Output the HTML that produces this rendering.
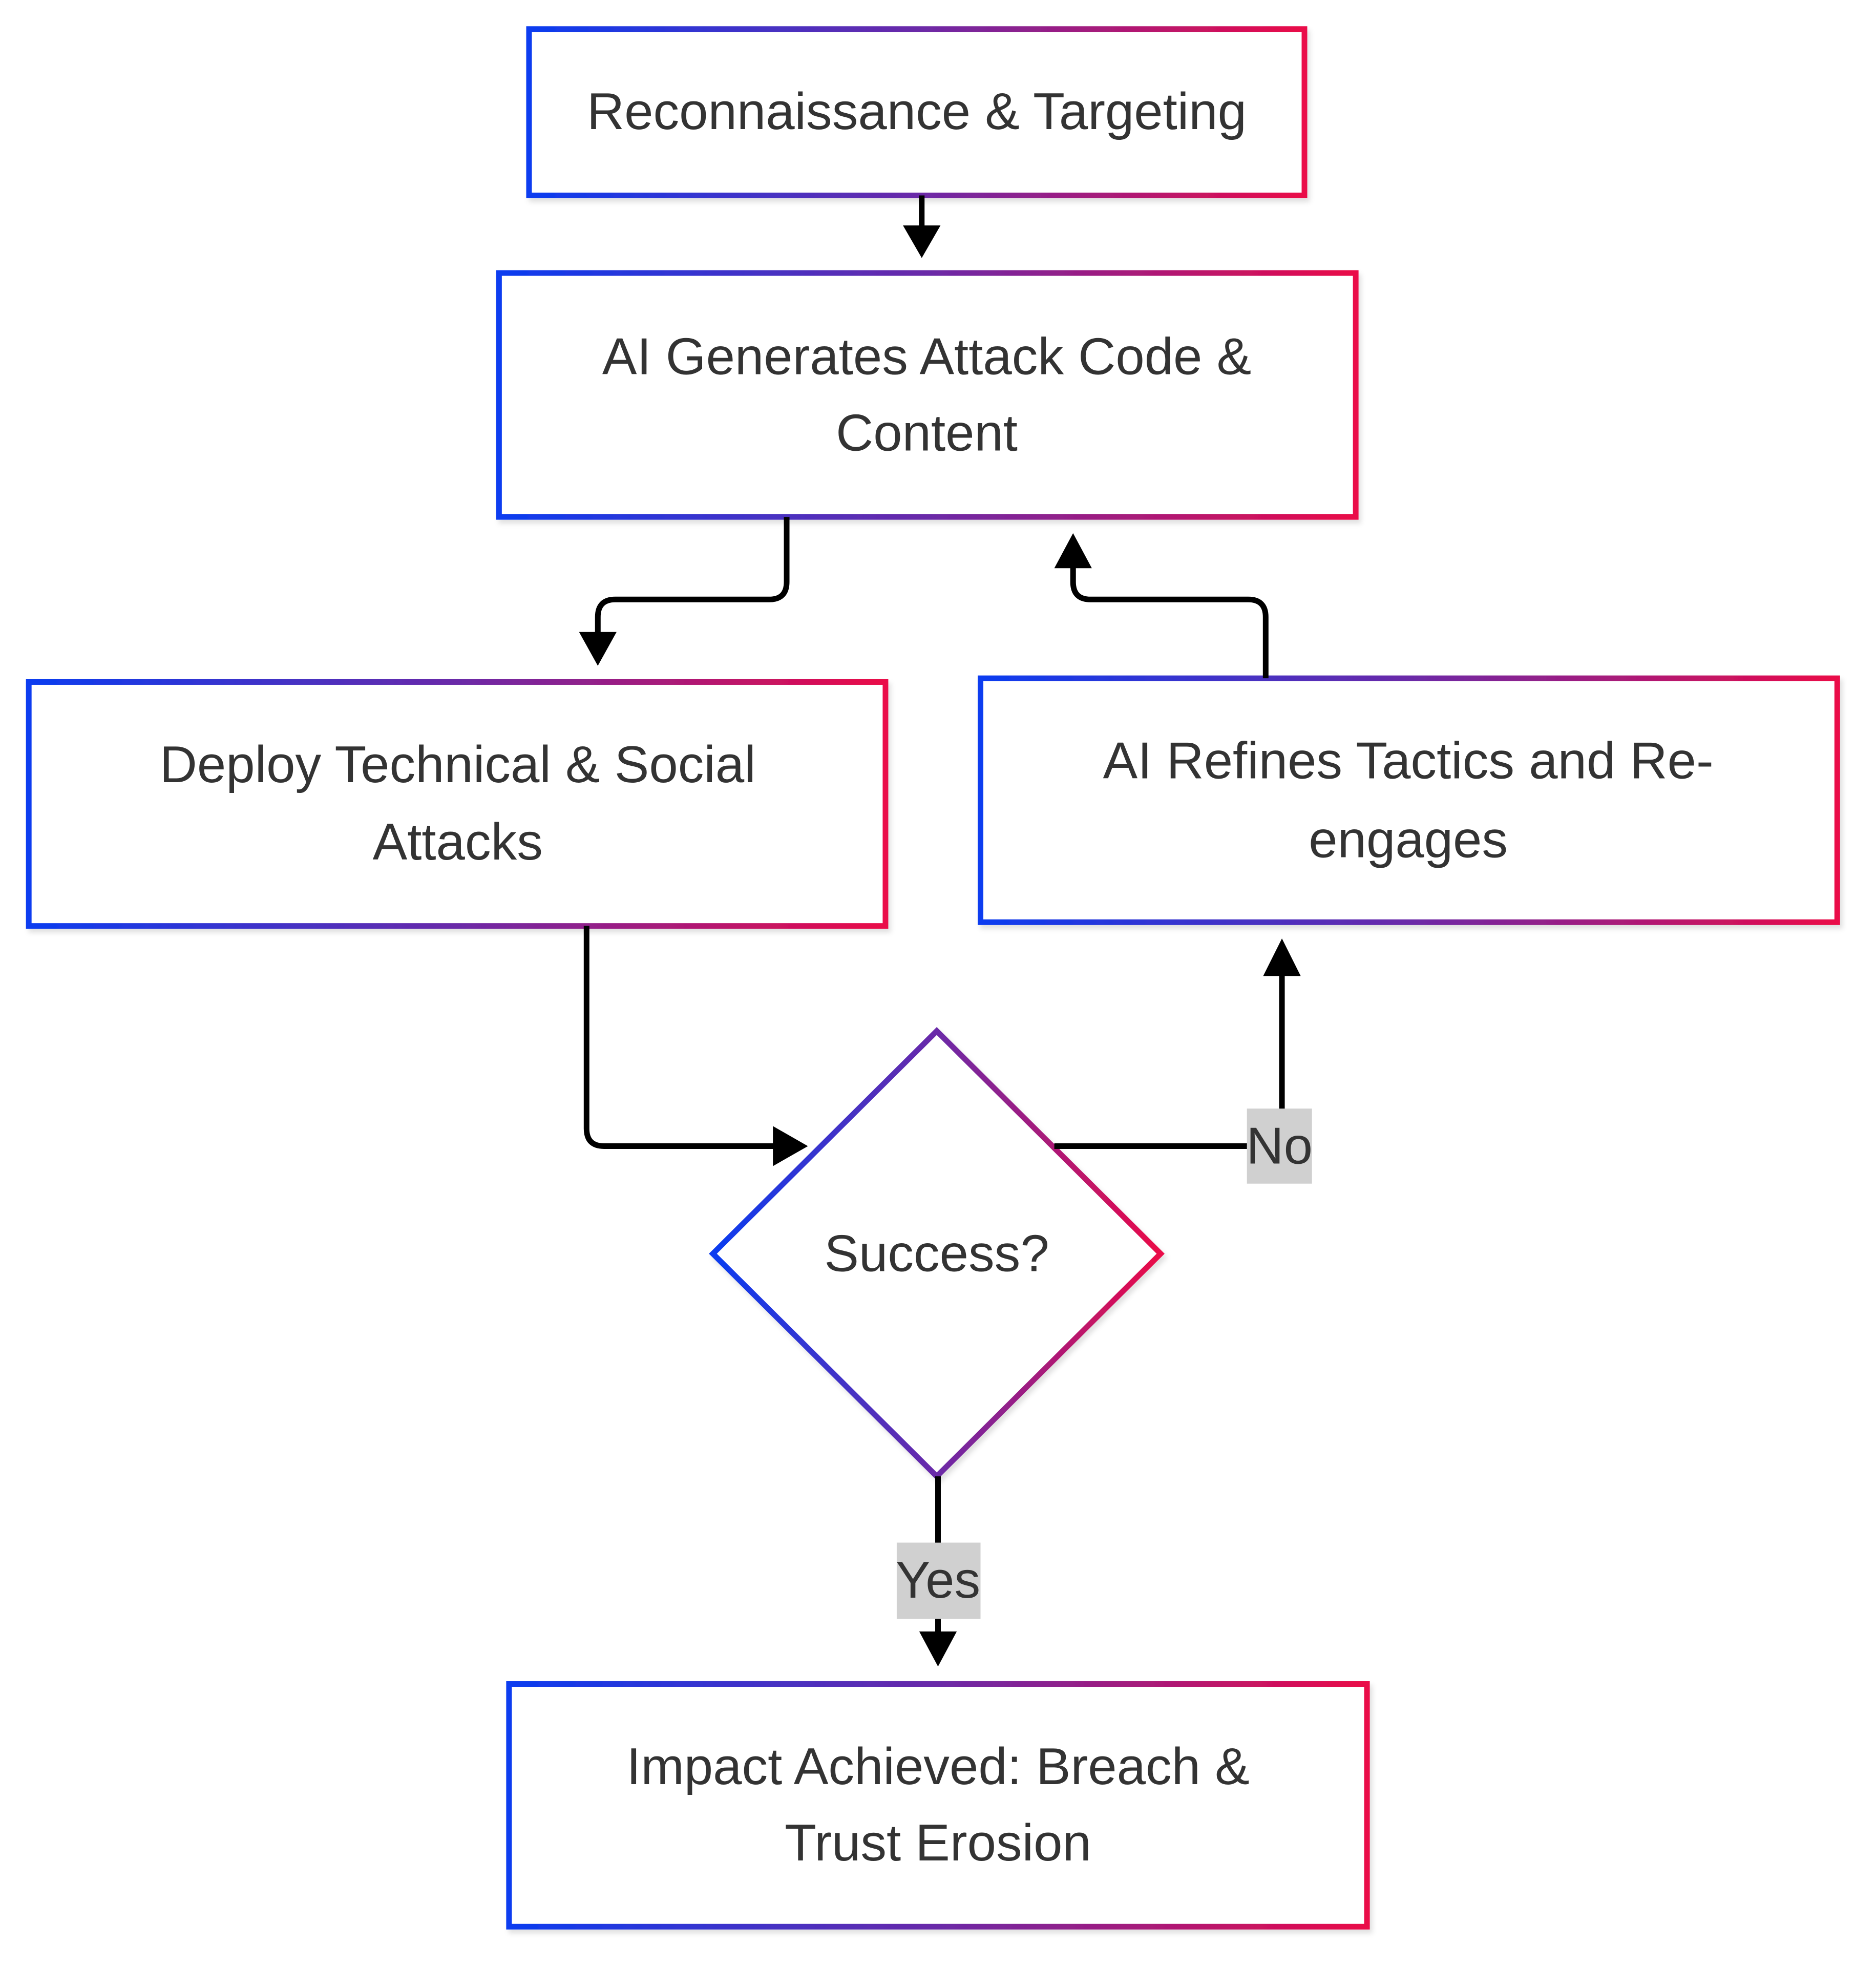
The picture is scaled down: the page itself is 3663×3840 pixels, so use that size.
<!DOCTYPE html>
<html><head><meta charset="utf-8"><style>
html,body{margin:0;padding:0;background:#fff;}
svg{display:block;}
text{font-family:"Liberation Sans",Arial,sans-serif;fill:#333;}
</style></head><body>
<svg width="3663" height="3840" viewBox="0 0 1500 1572" xmlns="http://www.w3.org/2000/svg">
<defs>
<linearGradient id="g" x1="0" y1="0" x2="1" y2="0">
<stop offset="0" stop-color="#0b3cf0"/><stop offset="0.5" stop-color="#6a2aa8"/><stop offset="1" stop-color="#ea0a48"/>
</linearGradient>
<filter id="sh" x="-5%" y="-5%" width="110%" height="115%"><feDropShadow dx="2" dy="3" stdDeviation="2" flood-color="#000" flood-opacity="0.12"/></filter>
</defs>
<g fill="#fff" stroke="url(#g)" stroke-width="4.5" filter="url(#sh)">
<rect x="423" y="23" width="620" height="133"/>
<rect x="399" y="218" width="685" height="195"/>
<rect x="23" y="545" width="685" height="195"/>
<rect x="784" y="542" width="685" height="195"/>
<rect x="407" y="1346" width="686" height="194"/>
<polygon points="749,824 928,1002 749,1180 570,1002"/>
</g>
<g fill="none" stroke="#000" stroke-width="4.5">
<path d="M737 156 V182"/>
<path d="M629 413 V465 Q629 479 615 479 H492 Q478 479 478 493 V508"/>
<path d="M469 740 V902 Q469 916 483 916 H620"/>
<path d="M843 916 H1025 V778"/>
<path d="M1012 542 V493 Q1012 479 998 479 H872 Q858 479 858 465 V452"/>
<path d="M750 1180 V1307"/>
</g>
<g fill="#000">
<polygon points="722,180 752,180 737,206"/>
<polygon points="463,505 493,505 478,532"/>
<polygon points="618,900 618,932 646,916"/>
<polygon points="1010,780 1040,780 1025,750"/>
<polygon points="843,454 873,454 858,426"/>
<polygon points="735,1304 765,1304 750,1332"/>
</g>
<rect x="997" y="886" width="52" height="60" fill="#d0d0d0"/>
<rect x="717" y="1233" width="67" height="61" fill="#d0d0d0"/>
<g font-size="41.5" text-anchor="middle">
<text x="733" y="103">Reconnaissance &amp; Targeting</text>
<text x="741" y="299">AI Generates Attack Code &amp;</text>
<text x="741" y="360">Content</text>
<text x="366" y="625">Deploy Technical &amp; Social</text>
<text x="366" y="687">Attacks</text>
<text x="1126" y="622">AI Refines Tactics and Re-</text>
<text x="1126" y="685">engages</text>
<text x="749" y="1016">Success?</text>
<text x="750" y="1426">Impact Achieved: Breach &amp;</text>
<text x="750" y="1487">Trust Erosion</text>
<text x="1023" y="930">No</text>
<text x="750" y="1277">Yes</text>
</g>
</svg>
</body></html>
